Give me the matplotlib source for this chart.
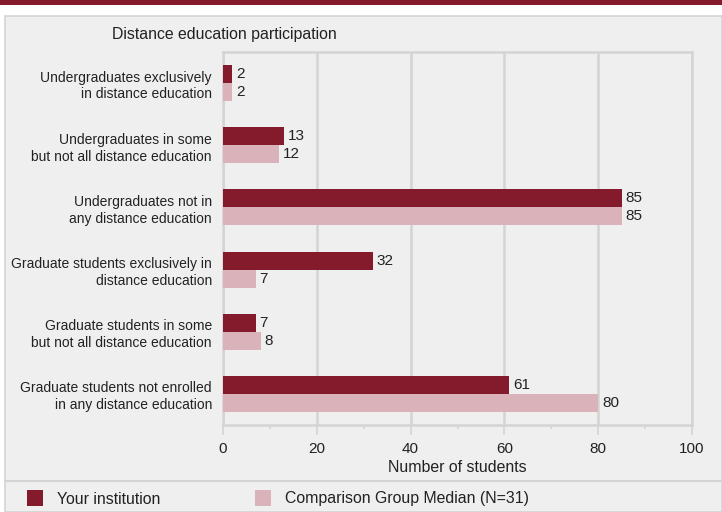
import numpy as np
import matplotlib.pyplot as plt
from matplotlib.patches import Rectangle
from matplotlib.lines import Line2D

plt.rcParams['font.family'] = ['Liberation Sans', 'DejaVu Sans']

categories = [
    'Undergraduates exclusively\nin distance education',
    'Undergraduates in some\nbut not all distance education',
    'Undergraduates not in\nany distance education',
    'Graduate students exclusively in\ndistance education',
    'Graduate students in some\nbut not all distance education',
    'Graduate students not enrolled\nin any distance education',
]
your_institution = [2, 13, 85, 32, 7, 61]
comparison_median = [2, 12, 85, 7, 8, 80]
x_ticks = [0, 20, 40, 60, 80, 100]

dark = '#841b2d'
light = '#d9b3b9'
panel = '#efefef'
edge = '#d4d4d4'
txt = '#222222'

fig = plt.figure(figsize=(7.22, 5.12), dpi=100)
W, H = 722, 512


def fx(px):
    return px / W


def fy(py):
    return 1 - py / H


# header band and background panel (behind the axes)
fig.patches.append(Rectangle((0, fy(5)), 1, 5 / H, transform=fig.transFigure,
                             facecolor=dark, edgecolor='none', zorder=-2))
fig.patches.append(Rectangle((fx(5), 0), 1 - fx(5), fy(16), transform=fig.transFigure,
                             facecolor=panel, edgecolor=edge, linewidth=1.2, zorder=-2))
fig.lines.append(Line2D([fx(5), 1], [fy(481), fy(481)], transform=fig.transFigure,
                        color=edge, linewidth=1.5, zorder=-1))

ax = fig.add_axes([fx(223), fy(425), fx(692) - fx(223), (425 - 52) / H])
ax.set_facecolor(panel)

y = np.arange(len(categories))
h = 0.29
ax.barh(y - h / 2, your_institution, height=h, color=dark, zorder=3)
ax.barh(y + h / 2, comparison_median, height=h, color=light, zorder=3)

fs = 11
for yi, v in zip(y, your_institution):
    ax.text(v + 0.8, yi - h / 2, str(v), va='center', ha='left', fontsize=fs, color=txt)
for yi, v in zip(y, comparison_median):
    ax.text(v + 0.8, yi + h / 2, str(v), va='center', ha='left', fontsize=fs, color=txt)

ax.set_xlim(0, 100)
ax.set_ylim(len(categories) - 0.5, -0.5)
ax.set_yticks(y)
ax.set_yticklabels(categories, fontsize=10.0, color=txt, multialignment='right',
                   linespacing=1.25)
ax.tick_params(axis='y', length=0, pad=8)
ax.set_xticks(x_ticks)
ax.set_xticks(range(10, 100, 20), minor=True)
ax.tick_params(axis='x', which='major', length=7, width=1.2, color=edge, labelsize=fs,
               labelcolor=txt, pad=5)
ax.tick_params(axis='x', which='minor', length=3, width=1.2, color=edge)
ax.grid(axis='x', color=edge, linewidth=1.8, zorder=0)
for s in ax.spines.values():
    s.set_color(edge)
    s.set_linewidth(1.8)
ax.set_xlabel('Number of students', fontsize=11.4, color=txt, labelpad=3)

fig.text(fx(112), fy(34), 'Distance education participation', fontsize=11.4,
         color=txt, va='center', ha='left')

# legend
fig.patches.append(Rectangle((fx(27), fy(506)), 16 / W, 16 / H, transform=fig.transFigure,
                             facecolor=dark, edgecolor='none'))
fig.text(fx(57), fy(499), 'Your institution', fontsize=11.4, color=txt, va='center')
fig.patches.append(Rectangle((fx(255), fy(506)), 16 / W, 16 / H, transform=fig.transFigure,
                             facecolor=light, edgecolor='none'))
fig.text(fx(285), fy(499), 'Comparison Group Median (N=31)', fontsize=11.4, color=txt,
         va='center')

fig.savefig('out.png', dpi=100, facecolor='white')
